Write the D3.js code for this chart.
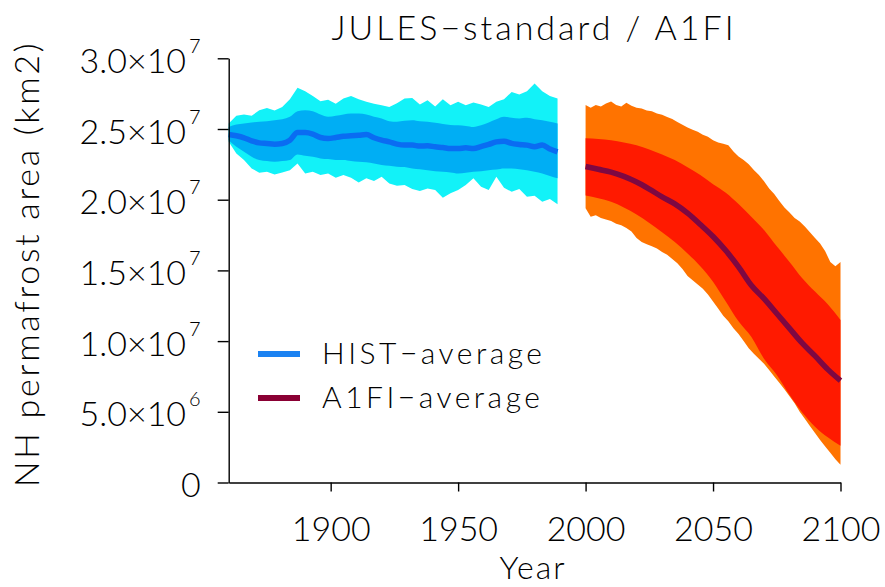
<!DOCTYPE html>
<html>
<head>
<meta charset="utf-8">
<script src="https://cdn.jsdelivr.net/npm/d3@7"></script>
<style>
  html, body { margin: 0; padding: 0; background: #ffffff; }
  svg { display: block; }
  text { font-family: "Lato", "DejaVu Sans", sans-serif; font-weight: 300; fill: #000; }
</style>
</head>
<body>
<svg id="chart" width="885" height="587"></svg>
<script>
// ---------------- DATA (values in units of 1e6 km2) ----------------
const UNIT = 1e6;

// Historical run: every 3rd year 1860..1989
const histYears = d3.range(1860, 1990, 3);
const histMean = [24.61,24.52,24.38,24.16,24.02,23.98,23.93,23.98,24.21,24.75,
  24.75,24.64,24.40,24.33,24.40,24.49,24.52,24.56,24.61,24.38,
  24.21,24.09,23.93,23.86,23.86,23.79,23.81,23.74,23.69,23.62,
  23.62,23.67,23.62,23.76,23.91,24.09,24.14,23.98,23.91,23.86,
  23.74,23.86,23.58,23.39];
const histInnerHigh = [25.15,25.32,25.39,25.46,25.51,25.55,25.62,25.69,25.86,26.26,
  26.33,26.26,26.02,25.86,25.93,26.02,26.09,26.09,26.02,25.86,
  25.74,25.55,25.51,25.58,25.62,25.55,25.51,25.44,25.36,25.29,
  25.27,25.22,25.15,25.27,25.46,25.69,25.86,25.79,25.74,25.79,
  25.69,25.62,25.51,25.39];
const histInnerLow = [24.21,23.74,23.39,23.04,22.80,22.73,22.68,22.73,22.80,23.20,
  23.11,23.04,22.92,22.87,22.80,22.80,22.73,22.68,22.64,22.56,
  22.45,22.40,22.33,22.31,22.21,22.16,22.09,22.02,21.98,21.93,
  21.86,21.91,21.98,22.02,22.09,22.14,22.21,22.21,22.16,22.09,
  21.98,21.86,21.67,21.51];
const histOuterHigh = [25.39,25.93,26.02,25.93,26.33,26.49,26.31,26.56,27.11,27.91,
  27.67,27.34,26.96,27.06,26.78,27.15,27.34,27.11,26.92,26.78,
  26.68,26.56,26.82,27.15,27.20,26.73,27.04,26.59,27.11,26.68,
  26.92,26.68,26.87,26.73,26.56,26.92,27.11,27.62,27.44,27.67,
  28.21,27.67,27.34,27.15];
const histOuterLow = [24.09,23.27,22.80,22.21,21.91,21.98,21.79,21.93,22.09,22.56,
  21.86,21.98,21.74,21.86,21.55,21.74,21.55,21.22,21.51,21.32,
  21.62,21.15,20.99,21.04,20.75,20.61,20.80,20.68,20.14,20.45,
  20.68,21.04,21.51,20.92,20.68,21.62,20.85,20.56,20.75,20.21,
  20.28,19.86,20.05,19.67];

// A1FI scenario: outer envelope every 2nd year, inner band and mean every 5th year
const a1fiOuterYears = d3.range(2000, 2101, 2);
const a1fiOuterHigh = [26.7,26.5,26.7,26.6,26.8,26.95,26.7,26.6,26.85,26.65,
  26.5,26.45,26.3,26.25,26.1,26.0,25.85,25.7,25.5,25.3,
  25.1,24.95,24.8,24.6,24.45,24.2,24.05,23.95,23.85,23.4,
  23.05,22.8,22.5,22.1,21.75,21.3,20.8,20.4,19.9,19.45,
  19.1,18.7,18.45,18.1,17.7,17.3,16.9,16.35,15.6,15.3,
  15.6];
const a1fiOuterLow = [19.4,18.8,18.9,18.7,18.6,18.5,18.3,18.2,18.0,17.75,
  17.3,17.0,16.85,16.7,16.55,16.3,16.1,15.8,15.5,15.1,
  14.6,14.3,14.0,13.7,13.3,12.8,12.3,11.8,11.4,10.9,
  10.5,10.0,9.5,9.1,8.75,8.4,7.95,7.5,7.05,6.6,
  6.1,5.6,5.0,4.5,4.0,3.5,3.0,2.55,2.1,1.65,
  1.25];
const a1fiYears = d3.range(2000, 2101, 5);
const a1fiInnerHigh = [24.35,24.3,24.2,24.05,23.85,23.55,23.2,22.8,22.3,21.75,
  21.1,20.5,19.7,18.8,17.85,16.7,15.6,14.45,13.5,12.6,11.5];
const a1fiInnerLow = [20.3,20.1,19.85,19.45,18.95,18.35,17.7,17.0,16.2,15.3,
  14.2,12.8,11.4,10.3,8.75,7.6,6.2,4.95,3.95,3.2,2.6];
const a1fiMean = [22.35,22.15,21.95,21.65,21.25,20.75,20.2,19.7,19.05,18.25,
  17.4,16.4,15.25,13.95,13.0,11.95,10.9,9.85,8.95,8.0,7.2];

const xTicks = [1900, 1950, 2000, 2050, 2100];
const yTicks = [0, 5e6, 1e7, 1.5e7, 2e7, 2.5e7, 3e7];
const legendLabels = ["HIST\u2212average", "A1FI\u2212average"];
const titleText = "JULES\u2212standard / A1FI";
const xTitle = "Year";
const yTitle = "NH permafrost area (km2)";

// ---------------- CHART ----------------
const svg = d3.select("#chart");
const x = d3.scaleLinear().domain([1860, 2100]).range([228.7, 840.5]);
const y = d3.scaleLinear().domain([0, 3e7]).range([482.5, 58.3]);

const colors = {
  histOuter: "#12F2F8", histInner: "#00AEF4", histMean: "#0A6CF2",
  a1fiOuter: "#FF7300", a1fiInner: "#FF1A00", a1fiMean: "#7E0842",
  histLegend: "#1A82F2", a1fiLegend: "#8A0034"
};

function band(years, lo, hi, curve) {
  const rows = years.map((yr, i) => ({ yr, lo: lo[i] * UNIT, hi: hi[i] * UNIT }));
  return d3.area().curve(curve).x(d => x(d.yr)).y0(d => y(d.lo)).y1(d => y(d.hi))(rows);
}
function line(years, vals, curve) {
  const rows = years.map((yr, i) => ({ yr, v: vals[i] * UNIT }));
  return d3.line().curve(curve).x(d => x(d.yr)).y(d => y(d.v))(rows);
}

const plot = svg.append("g");
plot.append("path").attr("d", band(histYears, histOuterLow, histOuterHigh, d3.curveLinear)).attr("fill", colors.histOuter);
plot.append("path").attr("d", band(histYears, histInnerLow, histInnerHigh, d3.curveMonotoneX)).attr("fill", colors.histInner);
plot.append("path").attr("d", line(histYears, histMean, d3.curveMonotoneX))
  .attr("fill", "none").attr("stroke", colors.histMean).attr("stroke-width", 5.5);

plot.append("path").attr("d", band(a1fiOuterYears, a1fiOuterLow, a1fiOuterHigh, d3.curveLinear)).attr("fill", colors.a1fiOuter);
plot.append("path").attr("d", band(a1fiYears, a1fiInnerLow, a1fiInnerHigh, d3.curveMonotoneX)).attr("fill", colors.a1fiInner);
plot.append("path").attr("d", line(a1fiYears, a1fiMean, d3.curveMonotoneX))
  .attr("fill", "none").attr("stroke", colors.a1fiMean).attr("stroke-width", 5.5);

// Axes
const xAxis = svg.append("g").attr("transform", `translate(0,${y(0)})`)
  .call(d3.axisBottom(x).tickValues(xTicks).tickSize(9).tickSizeOuter(0).tickFormat(d3.format("d")));
const yAxis = svg.append("g").attr("transform", `translate(${x(1860)},0)`)
  .call(d3.axisLeft(y).tickValues(yTicks).tickSize(11).tickSizeOuter(0).tickFormat(() => ""));

[xAxis, yAxis].forEach(a => {
  a.select(".domain").attr("stroke", "#000").attr("stroke-width", 1.4);
  a.selectAll(".tick line").attr("stroke", "#000").attr("stroke-width", 1.4);
});
xAxis.selectAll(".tick text")
  .attr("y", 541 - y(0)).attr("dy", null)
  .style("font-size", "34px").style("font-family", null);

yAxis.selectAll(".tick text").remove();
yAxis.selectAll(".tick").each(function(d) {
  const t = d3.select(this).append("text")
    .attr("x", -28).attr("y", 14).attr("text-anchor", "end")
    .style("font-size", "34px");
  if (d === 0) { t.text("0"); return; }
  const e = Math.floor(Math.log10(d));
  const m = (d / Math.pow(10, e)).toFixed(1);
  t.append("tspan").text(m + "\u00D710");
  t.append("tspan").attr("dx", 3).attr("dy", -20).style("font-size", "20px").text(e);
});

// Titles
svg.append("text").attr("x", 534).attr("y", 40).attr("text-anchor", "middle")
  .style("font-size", "34px").style("letter-spacing", "3px").text(titleText);
svg.append("text").attr("x", 533).attr("y", 579).attr("text-anchor", "middle")
  .style("font-size", "32px").style("letter-spacing", "2px").text(xTitle);
svg.append("text").attr("transform", "translate(39,264) rotate(-90)").attr("text-anchor", "middle")
  .style("font-size", "34px").style("letter-spacing", "2.7px").text(yTitle);

// Legend
const legend = svg.append("g");
const legendColors = [colors.histLegend, colors.a1fiLegend];
legendLabels.forEach((lab, i) => {
  const ly = 354 + i * 44;
  legend.append("line").attr("x1", 258).attr("x2", 300).attr("y1", ly).attr("y2", ly)
    .attr("stroke", legendColors[i]).attr("stroke-width", 6);
  legend.append("text").attr("x", 322).attr("y", ly + 10)
    .style("font-size", "30px").style("letter-spacing", "3.5px").text(lab);
});
</script>
</body>
</html>
